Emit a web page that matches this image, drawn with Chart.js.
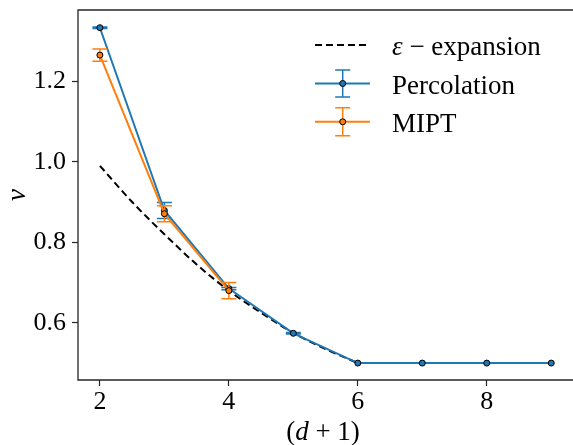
<!DOCTYPE html>
<html>
<head>
<meta charset="utf-8">
<script src="https://cdn.jsdelivr.net/npm/chart.js@4"></script>
<style>
  html, body { margin: 0; padding: 0; background: #fff; }
  #chart { display: block; }
</style>
</head>
<body>
<canvas id="chart" width="573" height="445"></canvas>
<script>
(() => {
  // data
  const percX = [2, 3, 4, 5, 6, 7, 8, 9];
  const percNu = [1.333, 0.879, 0.685, 0.574, 0.5, 0.5, 0.5, 0.5];
  const percErr = [0.002, 0.02, 0.003, 0.002, 0, 0, 0, 0];

  const miptX = [2, 3, 4];
  const miptNu = [1.265, 0.871, 0.68];
  const miptErr = [0.015, 0.02, 0.02];

  const epsX = [2, 2.5, 3, 3.5, 4, 4.5, 5, 5.5, 6];
  const epsNu = [0.99, 0.9, 0.82, 0.745, 0.68, 0.625, 0.575, 0.535, 0.5];

  const xTicks = [2, 4, 6, 8];
  const yTicks = [0.6, 0.8, 1.0, 1.2];

  const BLUE = '#1f77b4';
  const ORANGE = '#ff7f0e';
  const FONT = '"Liberation Serif", "DejaVu Serif", serif';
  const FSIZE = 27;

  const pts = (xs, ys) => xs.map((x, i) => ({ x, y: ys[i] }));
  const errs = { 1: percErr, 2: miptErr };

  // error bars, drawn just before each dataset so markers stay on top
  const errorBars = {
    id: 'errorBars',
    beforeDatasetDraw(chart, args) {
      const errArr = errs[args.index];
      if (!errArr) return;
      const ds = chart.data.datasets[args.index];
      const { ctx, scales: { x, y } } = chart;
      ctx.save();
      ctx.strokeStyle = ds.borderColor;
      ctx.lineWidth = 1.5;
      ds.data.forEach((p, i) => {
        const e = errArr[i];
        if (!e) return;
        const px = x.getPixelForValue(p.x);
        const top = y.getPixelForValue(p.y + e);
        const bot = y.getPixelForValue(p.y - e);
        ctx.beginPath();
        ctx.moveTo(px, top); ctx.lineTo(px, bot);
        ctx.moveTo(px - 7.5, top); ctx.lineTo(px + 7.5, top);
        ctx.moveTo(px - 7.5, bot); ctx.lineTo(px + 7.5, bot);
        ctx.stroke();
      });
      ctx.restore();
    }
  };

  function drawParts(ctx, parts, x, y, align) {
    let total = 0;
    parts.forEach(p => { ctx.font = p[1] + ' ' + FSIZE + 'px ' + FONT; total += ctx.measureText(p[0]).width; });
    let cx = align === 'center' ? x - total / 2 : x;
    parts.forEach(p => {
      ctx.font = p[1] + ' ' + FSIZE + 'px ' + FONT;
      ctx.fillText(p[0], cx, y);
      cx += ctx.measureText(p[0]).width;
    });
  }

  function errGlyph(ctx, color, cx, cy, half) {
    ctx.strokeStyle = color;
    ctx.lineWidth = 2;
    ctx.beginPath(); ctx.moveTo(315, cy); ctx.lineTo(370, cy); ctx.stroke();
    ctx.lineWidth = 1.5;
    ctx.beginPath();
    ctx.moveTo(cx, cy - half); ctx.lineTo(cx, cy + half);
    ctx.moveTo(cx - 7.5, cy - half); ctx.lineTo(cx + 7.5, cy - half);
    ctx.moveTo(cx - 7.5, cy + half); ctx.lineTo(cx + 7.5, cy + half);
    ctx.stroke();
    ctx.fillStyle = color;
    ctx.strokeStyle = '#000';
    ctx.lineWidth = 1;
    ctx.beginPath(); ctx.arc(cx, cy, 3, 0, Math.PI * 2); ctx.fill(); ctx.stroke();
  }

  // spines (right one falls outside the picture), axis titles and legend
  const decor = {
    id: 'decor',
    afterDraw(chart) {
      const { ctx, chartArea: a, width } = chart;
      ctx.save();
      ctx.strokeStyle = '#262626';
      ctx.lineWidth = 1.3;
      ctx.beginPath();
      ctx.moveTo(width, a.top); ctx.lineTo(a.left, a.top);
      ctx.lineTo(a.left, a.bottom); ctx.lineTo(width, a.bottom);
      ctx.stroke();

      ctx.fillStyle = '#000';
      ctx.textBaseline = 'alphabetic';
      drawParts(ctx, [['(', 'normal'], ['d', 'italic'], [' + 1)', 'normal']], 323, 440, 'center');

      ctx.save();
      ctx.translate(25, (a.top + a.bottom) / 2);
      ctx.rotate(-Math.PI / 2);
      drawParts(ctx, [['ν', 'italic']], 0, 0, 'center');
      ctx.restore();

      // legend
      ctx.strokeStyle = '#000';
      ctx.lineWidth = 2;
      ctx.setLineDash([7, 4]);
      ctx.beginPath(); ctx.moveTo(315, 45); ctx.lineTo(370, 45); ctx.stroke();
      ctx.setLineDash([]);
      errGlyph(ctx, BLUE, 342.7, 83.5, 13.5);
      errGlyph(ctx, ORANGE, 342.7, 121.8, 14);
      ctx.fillStyle = '#000';
      drawParts(ctx, [['ε', 'italic'], [' − expansion', 'normal']], 392, 55);
      drawParts(ctx, [['Percolation', 'normal']], 392, 93.5);
      drawParts(ctx, [['MIPT', 'normal']], 392, 131.8);
      ctx.restore();
    }
  };

  const tickFont = { family: FONT, size: 26 };

  new Chart(document.getElementById('chart').getContext('2d'), {
    type: 'scatter',
    data: {
      datasets: [
        {
          label: 'ε − expansion',
          data: pts(epsX, epsNu),
          showLine: true,
          borderColor: '#000',
          borderWidth: 2,
          borderDash: [7, 4],
          cubicInterpolationMode: 'monotone',
          pointRadius: 0,
          order: 3
        },
        {
          label: 'Percolation',
          data: pts(percX, percNu),
          showLine: true,
          borderColor: BLUE,
          backgroundColor: BLUE,
          borderWidth: 2,
          pointRadius: 3,
          pointBackgroundColor: BLUE,
          pointBorderColor: '#000',
          pointBorderWidth: 1,
          order: 2
        },
        {
          label: 'MIPT',
          data: pts(miptX, miptNu),
          showLine: true,
          borderColor: ORANGE,
          backgroundColor: ORANGE,
          borderWidth: 2,
          pointRadius: 3,
          pointBackgroundColor: ORANGE,
          pointBorderColor: '#000',
          pointBorderWidth: 1,
          order: 1
        }
      ]
    },
    options: {
      responsive: false,
      animation: false,
      layout: { padding: { top: 10, right: 0, left: 0, bottom: 0 } },
      plugins: { legend: { display: false }, tooltip: { enabled: false } },
      scales: {
        x: {
          type: 'linear',
          min: 1.66,
          max: 9.26,
          afterBuildTicks: s => { s.ticks = xTicks.map(v => ({ value: v })); },
          afterFit: s => { s.height = 65; s.paddingLeft = 0; s.paddingRight = 0; },
          ticks: { font: tickFont, color: '#000', padding: 1, maxRotation: 0, callback: v => String(v) },
          grid: { drawOnChartArea: false, tickLength: 6, tickColor: '#262626', tickWidth: 1.2 },
          border: { display: false }
        },
        y: {
          type: 'linear',
          min: 0.458,
          max: 1.377,
          afterBuildTicks: s => { s.ticks = yTicks.map(v => ({ value: v })); },
          afterFit: s => { s.width = 78; s.paddingTop = 0; s.paddingBottom = 0; },
          ticks: { font: tickFont, color: '#000', padding: 6, callback: v => v.toFixed(1) },
          grid: { drawOnChartArea: false, tickLength: 6, tickColor: '#262626', tickWidth: 1.2 },
          border: { display: false }
        }
      }
    },
    plugins: [errorBars, decor]
  });
})();
</script>
</body>
</html>
